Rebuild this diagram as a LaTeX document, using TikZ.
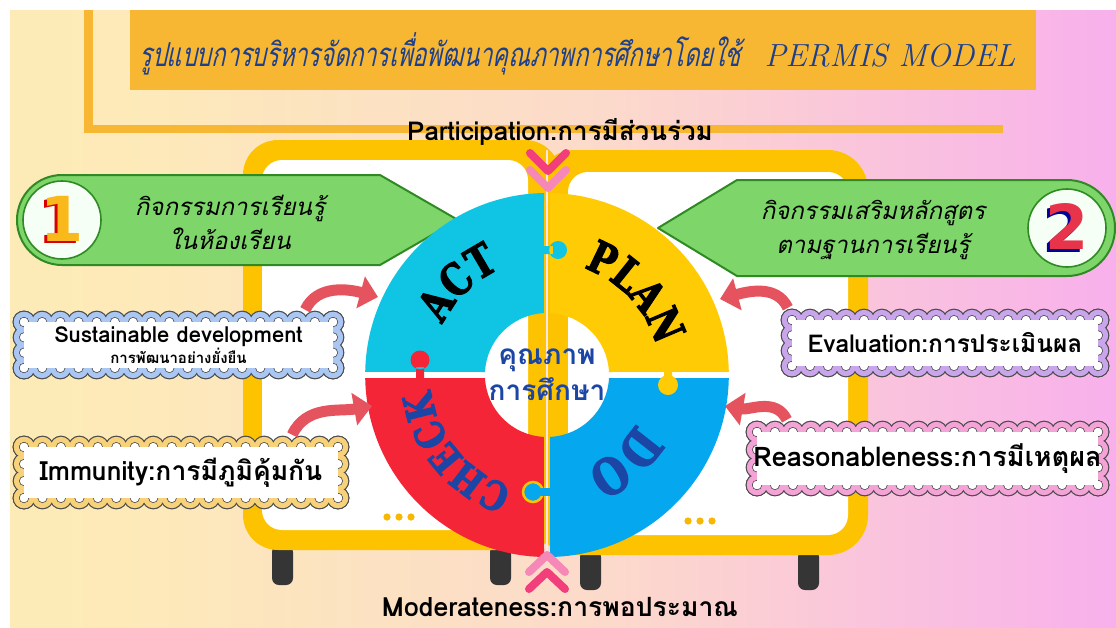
\documentclass[tikz,border=0pt]{standalone}
\usepackage{fontspec}
\usetikzlibrary{arrows.meta, calc, decorations.text, fadings, positioning}

\newfontfamily\thaifont[Script=Thai]{Loma}
\newfontfamily\thaislant[Script=Thai, FakeSlant=0.22]{Loma}
\newfontfamily\titlefont[Script=Thai, FakeSlant=0.22, FakeStretch=0.71]{Loma}
\newfontfamily\puzzlefont[FakeStretch=0.8, FakeBold=2.4]{DejaVu Serif}
\newfontfamily\numfont{DejaVu Sans}

\definecolor{bgyellow}{HTML}{FDF1B0}
\definecolor{bgpeach}{HTML}{FCDACB}
\definecolor{bgpink}{HTML}{F8B0EC}
\definecolor{bgmagenta}{HTML}{F6A2F4}
\definecolor{barorange}{HTML}{F8B733}
\definecolor{glowgold}{HTML}{F3C43A}
\definecolor{gloworange}{HTML}{F0A848}
\definecolor{panelyel}{HTML}{FDC300}
\definecolor{leggray}{HTML}{353535}
\definecolor{boxgreen}{HTML}{7ED66B}
\definecolor{edgegreen}{HTML}{2F8A23}
\definecolor{actcyan}{HTML}{10C5E3}
\definecolor{planyel}{HTML}{FFCB05}
\definecolor{checkred}{HTML}{F42536}
\definecolor{doblue}{HTML}{05A7EE}
\definecolor{txtblue}{HTML}{1B46A6}
\definecolor{titleblue}{HTML}{1C3F8E}
\definecolor{arrowred}{HTML}{E5535F}
\definecolor{hotpink}{HTML}{F23F7C}
\definecolor{softpink}{HTML}{F588B6}
\definecolor{linegray}{HTML}{4A4A4A}
\definecolor{susblue}{HTML}{A9C7F2}
\definecolor{immyel}{HTML}{F8D27A}
\definecolor{evalilac}{HTML}{C9A6EC}
\definecolor{reapink}{HTML}{F3A3D6}
\definecolor{dotyel}{HTML}{F6B800}
\definecolor{onegold}{HTML}{F9B91A}
\definecolor{twored}{HTML}{E8344A}

\pgfdeclarehorizontalshading{bgshade}{100bp}{color(0bp)=(bgyellow); color(30bp)=(bgyellow!70!bgpeach); color(52bp)=(bgpeach); color(75bp)=(bgpink); color(100bp)=(bgmagenta)}
\tikzfading[name=fade sides, left color=transparent!100, middle color=transparent!0, right color=transparent!100]

% digit with a coloured drop shadow
\newcommand\shadowdigit[3]{\rlap{\kern-2.5pt\raisebox{-2.5pt}{\textcolor{#1}{#3}}}\textcolor{#2}{#3}}

% scalloped frame: corners of the bump centres, then colour
\newcommand\cloudring[5]{%
  \pgfmathtruncatemacro\ringnx{max(1,round((#3-#1)/18))}
  \pgfmathtruncatemacro\ringny{max(1,round((#2-#4)/17))}
  \foreach \rad/\col in {11.4/linegray, 10.2/#5, 5.0/linegray, 4.2/white} {
    \fill[fill=\col] (#1,#2) rectangle (#3,#4);
    \foreach \i in {0,...,\ringnx} {
      \fill[fill=\col] ({#1+\i*(#3-#1)/\ringnx},#2) circle (\rad);
      \fill[fill=\col] ({#1+\i*(#3-#1)/\ringnx},#4) circle (\rad);
    }
    \foreach \j in {0,...,\ringny} {
      \fill[fill=\col] (#1,{#4+\j*(#2-#4)/\ringny}) circle (\rad);
      \fill[fill=\col] (#3,{#4+\j*(#2-#4)/\ringny}) circle (\rad);
    }
  }
}

\begin{document}
\begin{tikzpicture}[x=1pt, y=1pt,
    cloudtext/.style={rectangle, inner sep=0pt, align=center, font=\thaifont\bfseries},
    redarrow/.style={draw=arrowred, line width=11pt, -{Triangle[length=18pt, width=32pt]}},
    chev/.style={line width=8pt, line cap=round, line join=round},
    greenbox/.style={fill=boxgreen, draw=edgegreen, line width=2pt, line join=round},
    numdisc/.style={circle, minimum size=78pt, fill=green!4, draw=edgegreen, line width=1.6pt},
    numtext/.style={font=\numfont\bfseries\fontsize{62}{62}\selectfont},
    boxtext/.style={font=\thaislant\fontsize{24}{34}\selectfont, align=center},
    puzzletext/.style={decorate, decoration={text along path, text align=center, text color=#1}},
]
    % Background and frame
    \useasboundingbox (0,0) rectangle (1116,-627);
    \fill[white] (0,0) rectangle (1116,-627);
    \shade[shading=bgshade] (10,-10) rectangle (1116,-627);
    \fill[barorange] (84,-10) rectangle (93,-133);
    \fill[barorange] (84,-125) rectangle (1003,-133);
    \fill[barorange] (130,-10) rectangle (1036,-90);
    \fill[glowgold, path fading=fade sides] (330,-104) rectangle (810,-172);
    \fill[gloworange, path fading=fade sides] (225,-578) rectangle (885,-627);

    % Title
    \node[font=\titlefont\fontsize{33}{34}\selectfont, text=titleblue, anchor=west] (title) at (136,-54)
        {รูปแบบการบริหารจัดการเพื่อพัฒนาคุณภาพการศึกษาโดยใช้\hspace{24pt}{\rmfamily\itshape\fontsize{32}{32}\selectfont PERMIS MODEL}};

    % Board with legs
    \foreach \lx/\ly in {272/545, 490/545, 580/550, 798/550}
        \fill[leggray, rounded corners=7pt] (\lx,-\ly) rectangle (\lx+21,-\ly-40);
    \fill[panelyel, rounded corners=35pt] (243,-140) rectangle (560,-550);
    \fill[white, rounded corners=20pt] (262,-160) rectangle (528,-530);
    \fill[panelyel, rounded corners=40pt] (535,-150) rectangle (868,-555);
    \fill[white, rounded corners=20pt] (568,-172) rectangle (848,-535);
    \draw[white!60!pink, line width=2.5pt] (547,-150) -- (547,-560);
    \foreach \dx in {0,12,24} {
        \fill[dotyel] (387+\dx,-517) circle (3.6);
        \fill[dotyel] (688+\dx,-521) circle (3.6);
    }

    % Green arrow boxes
    \path[greenbox] (62,-175) -- (380,-175) -- (458,-220) -- (380,-265) -- (62,-265)
        arc[start angle=270, end angle=90, radius=45] -- cycle;
    \path[greenbox] (1067,-180) -- (737,-180) -- (658,-228) -- (737,-276) -- (1067,-276)
        arc[start angle=-90, end angle=90, radius=48] -- cycle;
    \node[numdisc] (one) at (62,-220) {};
    \node[numdisc] (two) at (1067,-228) {};
    \node[numtext] (onelabel) at (one.center) {\shadowdigit{red!85!black}{onegold}{1}};
    \node[numtext] (twolabel) at (two.center) {\shadowdigit{blue!60!black}{twored}{2}};
    \node[boxtext] (boxone) at (230,-222) {กิจกรรมการเรียนรู้\\ในห้องเรียน};
    \node[boxtext] (boxtwo) at (873,-230) {กิจกรรมเสริมหลักสูตร\\ตามฐานการเรียนรู้};

    % PDCA puzzle ring
    \coordinate (C) at (547,-375);
    \fill[actcyan] ($(C)+(-3,182)$) arc[start angle=91, end angle=179, radius=182]
        -- ($(C)+(-62,3)$) arc[start angle=177.2, end angle=92.8, radius=62] -- cycle;
    \fill[planyel] ($(C)+(3,182)$) arc[start angle=89, end angle=1, radius=182]
        -- ($(C)+(62,3)$) arc[start angle=2.8, end angle=87.2, radius=62] -- cycle;
    \fill[doblue] ($(C)+(3,-182)$) arc[start angle=-89, end angle=-1, radius=182]
        -- ($(C)+(62,-3)$) arc[start angle=-2.8, end angle=-87.2, radius=62] -- cycle;
    \fill[checkred] ($(C)+(-3,-182)$) arc[start angle=-91, end angle=-179, radius=182]
        -- ($(C)+(-62,-3)$) arc[start angle=-177.2, end angle=-92.8, radius=62] -- cycle;
    % puzzle knobs
    \fill[actcyan] ($(C)+(-4,121)$) rectangle ($(C)+(6,129)$) ($(C)+(11,125)$) circle (9);
    \fill[planyel] ($(C)+(117,4)$) rectangle ($(C)+(125,-4)$) ($(C)+(121,-10)$) circle (10);
    \fill[checkred] ($(C)+(-131,-4)$) rectangle ($(C)+(-123,8)$) ($(C)+(-127,15)$) circle (9.5);
    \filldraw[doblue, draw=panelyel, line width=2.5pt] ($(C)+(-14,-117)$) circle (10);
    \fill[doblue] ($(C)+(-6,-121)$) rectangle ($(C)+(4,-113)$);

    \path[puzzletext=black, decoration={text={|\puzzlefont\bfseries\fontsize{44}{44}\selectfont|ACT}}]
        ($(C)+(184:116)$) arc[start angle=184, end angle=84, radius=116];
    \path[puzzletext=black, decoration={text={|\puzzlefont\bfseries\fontsize{44}{44}\selectfont|PLAN}}]
        ($(C)+(93:113)$) arc[start angle=93, end angle=-7, radius=113];
    \path[puzzletext=txtblue, decoration={text={|\puzzlefont\bfseries\fontsize{50}{50}\selectfont|DO}}]
        ($(C)+(2:101)$) arc[start angle=2, end angle=-98, radius=101];
    \path[puzzletext=txtblue, decoration={text={|\puzzlefont\bfseries\fontsize{40}{40}\selectfont|CHECK}}]
        ($(C)+(270:117)$) arc[start angle=270, end angle=170, radius=117];
    \node[font=\thaifont\bfseries\fontsize{28}{36}\selectfont, text=txtblue, align=center] (quality) at (C) {คุณภาพ\\การศึกษา};

    % Principle clouds
    \cloudring{24}{-322}{333}{-368}{susblue}
    \cloudring{24}{-447}{338}{-498}{immyel}
    \cloudring{792}{-320}{1098}{-366}{evalilac}
    \cloudring{757}{-432}{1098}{-485}{reapink}
    \node[cloudtext, minimum width=333pt, minimum height=70pt] (sus) at (178.5,-345)
        {{\fontsize{22}{24}\selectfont Sustainable development}\\{\fontsize{15}{20}\selectfont การพัฒนาอย่างยั่งยืน}};
    \node[cloudtext, minimum width=338pt, minimum height=75pt] (imm) at (181,-472.5)
        {\fontsize{26.5}{28}\selectfont Immunity:การมีภูมิคุ้มกัน};
    \node[cloudtext, minimum width=330pt, minimum height=70pt] (eva) at (945,-343)
        {\fontsize{24.5}{28}\selectfont Evaluation:การประเมินผล};
    \node[cloudtext, minimum width=365pt, minimum height=77pt] (rea) at (927.5,-458.5)
        {\fontsize{27}{28}\selectfont Reasonableness:การมีเหตุผล};

    % Arrows into the ring
    \coordinate (actin) at (378,-297);
    \coordinate (checkin) at (372,-406);
    \coordinate (planin) at (720,-299);
    \coordinate (doin) at (725,-406);
    \draw[redarrow] ([xshift=-40pt]sus.north east) to[out=65, in=165] (actin);
    \draw[redarrow] ([xshift=-58pt]imm.north east) to[out=65, in=190] (checkin);
    \draw[redarrow] ([xshift=8pt]eva.north west) to[out=115, in=15] (planin);
    \draw[redarrow] ([xshift=42pt]rea.north west) to[out=115, in=-10] (doin);

    % Chevrons and top / bottom labels
    \draw[chev, softpink] (530,-170) -- (548,-188) -- (566,-170);
    \draw[chev, hotpink] (530,-153) -- (548,-171) -- (566,-153);
    \draw[chev, softpink] (529,-572) -- (547,-555) -- (565,-572);
    \draw[chev, hotpink] (529,-589) -- (547,-572) -- (565,-589);
    \node[font=\thaifont\bfseries\fontsize{26}{26}\selectfont] (part) at (560,-132) {Participation:การมีส่วนร่วม};
    \node[font=\thaifont\bfseries\fontsize{26.5}{26.5}\selectfont] (mod) at (560,-607) {Moderateness:การพอประมาณ};
\end{tikzpicture}
\end{document}
